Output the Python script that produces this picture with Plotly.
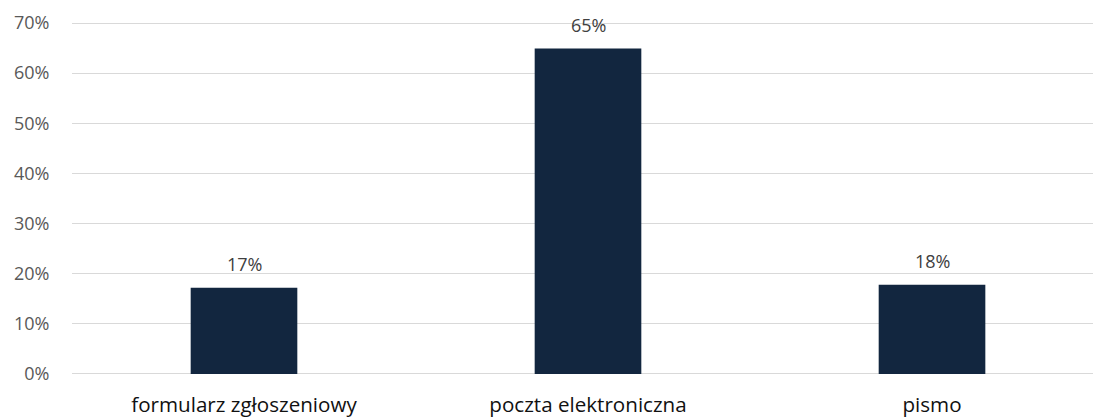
import plotly.graph_objects as go

categories = ["formularz zgłoszeniowy", "poczta elektroniczna", "pismo"]
values = [0.172, 0.649, 0.178]
labels = ["17%", "65%", "18%"]
y_ticks = [0, 0.1, 0.2, 0.3, 0.4, 0.5, 0.6, 0.7]
y_tick_labels = ["0%", "10%", "20%", "30%", "40%", "50%", "60%", "70%"]

fig = go.Figure(go.Bar(
    x=categories, y=values, width=0.31,
    marker=dict(color="#12263F", line=dict(width=0)),
    hoverinfo="skip",
))
for c, v, t in zip(categories, values, labels):
    fig.add_annotation(x=c, y=v, text=t, showarrow=False, yanchor="bottom",
                       yshift=10,
                       font=dict(family="Open Sans", size=18, color="#404040"))

fig.update_layout(
    width=1093, height=418,
    margin=dict(l=72, r=0, t=21, b=40, pad=0),
    plot_bgcolor="white", paper_bgcolor="white",
    showlegend=False,
    font=dict(family="Open Sans", size=18, color="#595959"),
)
fig.update_xaxes(range=[-0.5, 2.468], showgrid=False, zeroline=False,
                 showline=False, ticks="outside", ticklen=10,
                 tickcolor="rgba(0,0,0,0)",
                 tickfont=dict(family="Open Sans", size=20.6, color="#111111"))
fig.update_yaxes(range=[-0.004, 0.704], tickvals=y_ticks, ticktext=y_tick_labels,
                 showgrid=True, gridcolor="#D9D9D9", gridwidth=1.3,
                 zeroline=False, showline=False, ticks="outside",
                 ticklen=18, tickcolor="rgba(0,0,0,0)",
                 tickfont=dict(family="Open Sans", size=18, color="#595959"))
fig.write_html("out.html", config={"displayModeBar": False},
               post_script="document.body.style.margin='0';document.body.style.overflow='hidden';")
